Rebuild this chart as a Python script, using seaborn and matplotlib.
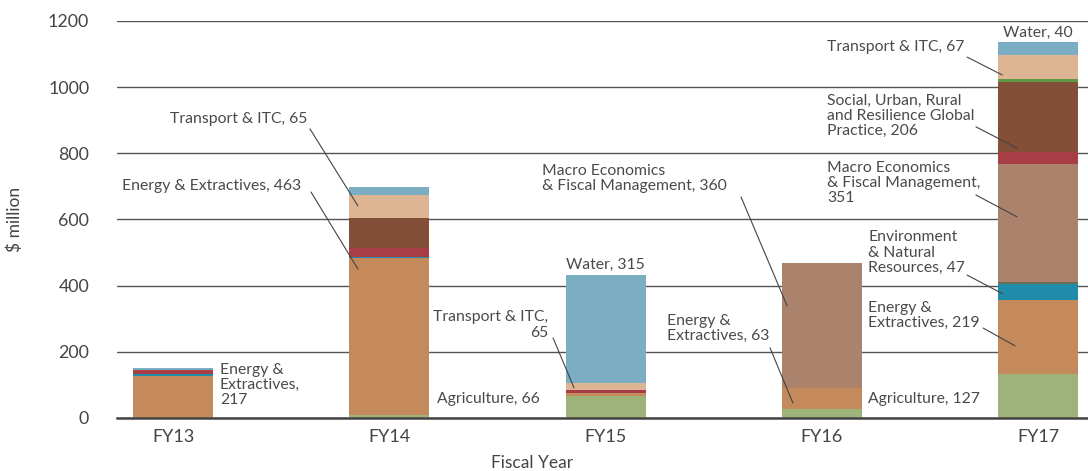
import numpy as np
import pandas as pd
import matplotlib
matplotlib.use("Agg")
import matplotlib.pyplot as plt
import seaborn as sns

# fiscal years and values ($ million) per practice
years        = ["FY13", "FY14", "FY15", "FY16", "FY17"]
agriculture  = [0, 8, 68, 26, 133]
energy       = [128, 475, 9, 64, 224]
environment  = [4, 5, 0, 0, 48]
finance      = [0, 0, 0, 0, 5]
macro        = [0, 0, 0, 378, 358]
poverty      = [12, 25, 8, 0, 35]
social_urban = [0, 91, 0, 0, 213]
trade        = [0, 0, 0, 0, 9]
transport    = [0, 69, 22, 0, 73]
water        = [6, 25, 325, 0, 39]

practices = ["Agriculture", "Energy & Extractives", "Environment & Natural Resources",
             "Finance & Markets", "Macro Economics & Fiscal Management", "Poverty",
             "Social, Urban, Rural and Resilience", "Trade & Competitiveness",
             "Transport & ITC", "Water"]
series = [agriculture, energy, environment, finance, macro, poverty,
          social_urban, trade, transport, water]
colors = ["#9db37a", "#c58a5b", "#1f8caa", "#6b6c50", "#ab836d", "#a83e45",
          "#844f39", "#5f9a45", "#deb592", "#7badc3"]

# annotations: text, text position, alignment, leader line (start, end) in data units
labels = [
    ("Energy &\nExtractives,\n217", (0.217, 100), "left", None),
    ("Transport & ITC, 65", (-0.014, 904), "left", ((0.633, 874), (0.855, 641))),
    ("Energy & Extractives, 463", (-0.236, 701), "left", ((0.638, 683), (0.855, 450))),
    ("Agriculture, 66", (1.220, 57), "left", None),
    ("Transport & ITC,\n65", (1.734, 281), "right", ((1.757, 242), (1.854, 91))),
    ("Water, 315", (2.0, 462), "center", None),
    ("Macro Economics\n& Fiscal Management, 360", (1.706, 724), "left", ((2.626, 668), (2.839, 339))),
    ("Energy &\nExtractives, 63", (2.284, 271), "left", ((2.760, 212), (2.866, 45))),
    ("Agriculture, 127", (3.213, 57), "left", None),
    ("Water, 40", (4.0, 1164), "center", None),
    ("Transport & ITC, 67", (3.024, 1121), "left", ((3.671, 1091), (3.833, 1037))),
    ("Social, Urban, Rural\nand Resilience Global\nPractice, 206", (3.024, 913), "left", ((3.712, 880), (3.902, 816))),
    ("Macro Economics\n& Fiscal Management,\n351", (3.024, 710), "left", ((3.712, 674), (3.902, 608))),
    ("Environment\n& Natural\nResources, 47", (3.213, 500), "left", ((3.671, 432), (3.837, 375))),
    ("Energy &\nExtractives, 219", (3.213, 310), "left", ((3.745, 272), (3.893, 218))),
]

sns.set_theme(style="white")
plt.rcParams["font.family"] = ["Lato", "DejaVu Sans"]

df = pd.DataFrame(dict(zip(practices, series)), index=years)
cum = df.cumsum(axis=1)

fig = plt.figure(figsize=(10.88, 4.71), dpi=100)
ax = fig.add_axes([117 / 1088, 1 - 418 / 471, 1 - 117 / 1088, 397 / 471])

# stacked bars: draw cumulative totals from the top layer down
for name, c in reversed(list(zip(practices, colors))):
    d = pd.DataFrame({"year": years, "value": cum[name].values})
    sns.barplot(data=d, x="year", y="value", order=years, color=c, saturation=1,
                width=0.37, errorbar=None, linewidth=0, ax=ax)

ax.set_xlim(-0.259, 4.23)
ax.set_ylim(0, 1200)
ax.set_yticks(np.arange(0, 1201, 200))
ax.set_axisbelow(True)
ax.yaxis.grid(True, color="#555555", lw=1)
ax.xaxis.grid(False)
for s in ["left", "right", "top"]:
    ax.spines[s].set_visible(False)
ax.spines["bottom"].set_color("#444444")
ax.spines["bottom"].set_linewidth(1.8)
ax.tick_params(axis="y", length=0, pad=20, labelsize=12.8, labelcolor="#444444")
ax.tick_params(axis="x", length=0, pad=8, labelsize=13, labelcolor="#444444")
ax.set_ylabel("$ million", fontsize=12.5, color="#444444")
ax.set_xlabel("Fiscal Year", fontsize=12.5, color="#444444")
ax.yaxis.set_label_coords(-0.097, 0.5)
ax.xaxis.set_label_coords(0.427, -0.092)

for text, pos, ha, line in labels:
    ax.text(pos[0], pos[1], text, ha=ha, va="center", fontsize=11.3,
            color="#4a4a4a", linespacing=1.1)
    if line:
        (x0, y0), (x1, y1) = line
        ax.plot([x0, x1], [y0, y1], color="#444444", lw=0.8)

fig.savefig("out.png", dpi=100)
